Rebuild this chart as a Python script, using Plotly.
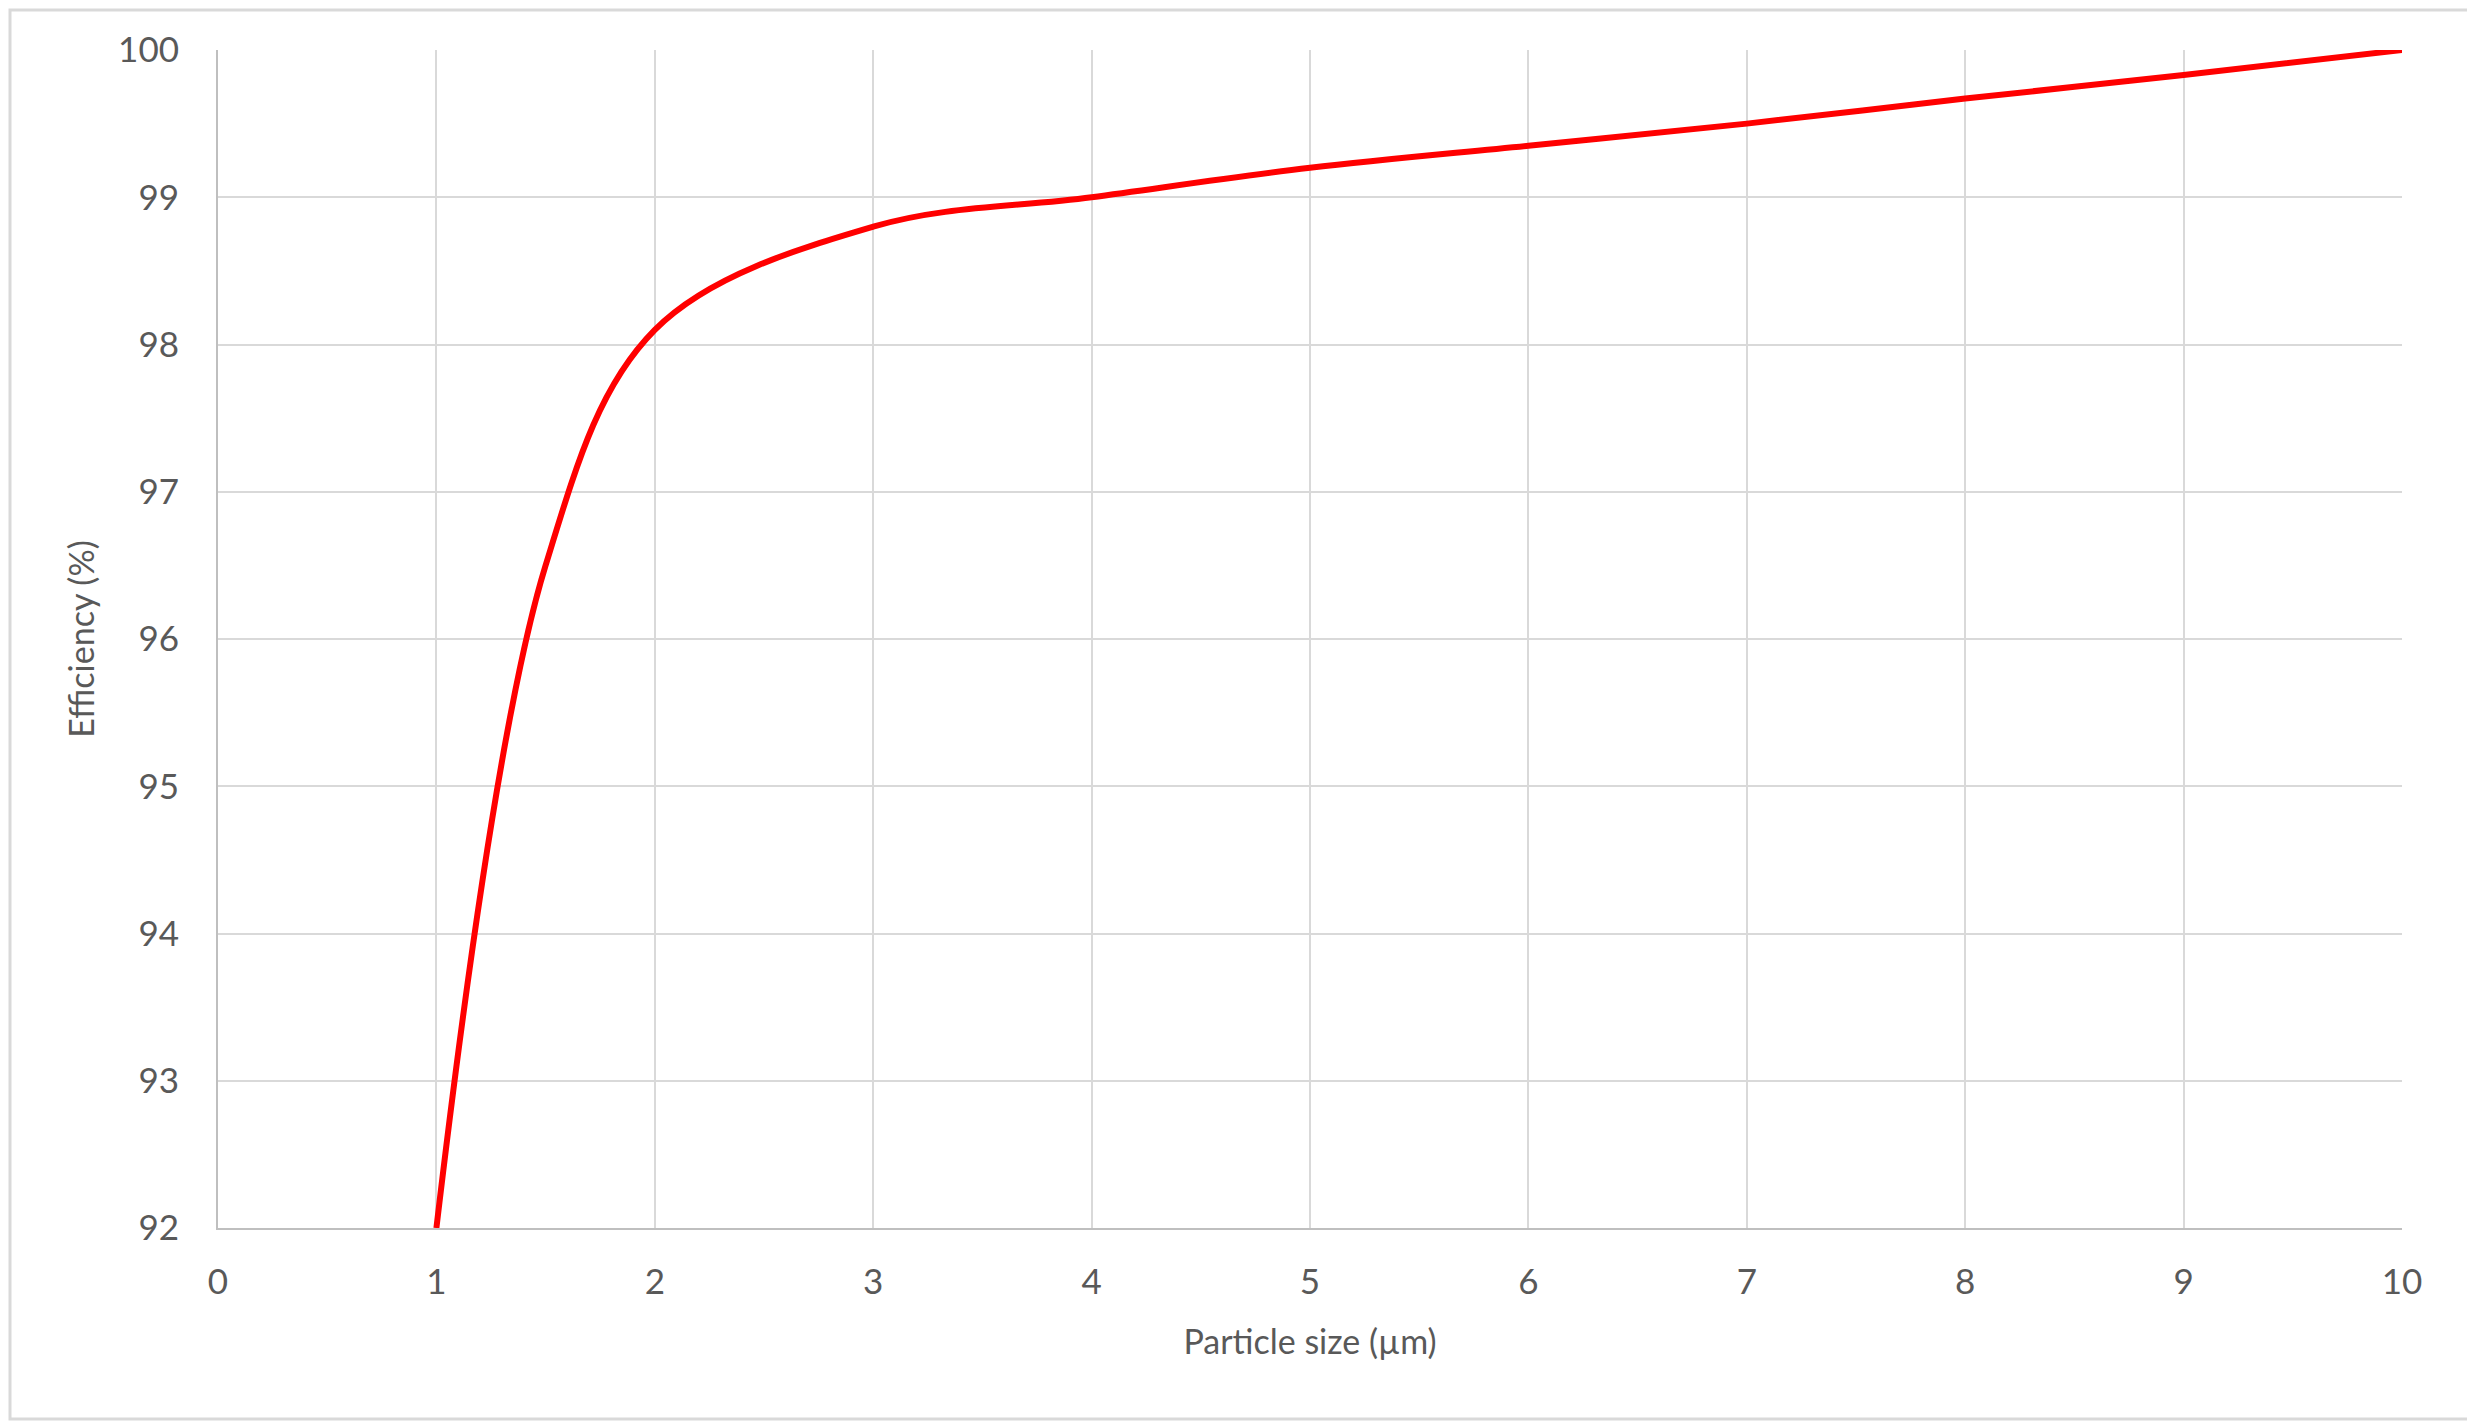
import plotly.graph_objects as go

particle_size = [1, 1.5, 2, 3, 4, 5, 6, 7, 8, 9, 10]
efficiency = [92, 96.5, 98.1, 98.8, 99.0, 99.2, 99.35, 99.5, 99.67, 99.83, 100]
x_ticks = list(range(0, 11))
y_ticks = list(range(92, 101))

W, H = 2467, 1414
ml, mr, mt, mb = 210, 73, 42, 194

fig = go.Figure()
fig.add_trace(go.Scatter(
    x=particle_size, y=efficiency, mode="lines",
    line=dict(color="#FF0000", width=6, shape="spline", smoothing=1.0),
    cliponaxis=False, showlegend=False,
))

font_family = "Lato, Open Sans, sans-serif"
fig.update_layout(
    width=W, height=H,
    margin=dict(l=ml, r=mr, t=mt, b=mb),
    paper_bgcolor="white", plot_bgcolor="white",
    font=dict(family=font_family, color="#595959"),
    xaxis=dict(
        range=[0, 10], tickvals=x_ticks, ticktext=[str(v) for v in x_ticks],
        showgrid=True, gridcolor="#D9D9D9", gridwidth=2,
        showline=True, linecolor="#BFBFBF", linewidth=2,
        zeroline=False, ticks="outside", ticklen=22, tickcolor="rgba(0,0,0,0)",
        tickfont=dict(size=35, color="#595959"),
        title=dict(text="Particle size (µm)", font=dict(size=34, color="#595959"), standoff=30),
    ),
    yaxis=dict(
        range=[92, 100], tickvals=y_ticks, ticktext=[str(v) for v in y_ticks],
        showgrid=True, gridcolor="#D9D9D9", gridwidth=2,
        showline=True, linecolor="#BFBFBF", linewidth=2,
        zeroline=False, ticks="outside", ticklen=30, tickcolor="rgba(0,0,0,0)",
        tickfont=dict(size=35, color="#595959"),
        title=dict(text="Efficiency (%)", font=dict(size=34, color="#595959"), standoff=13),
    ),
)

pw, ph = W - ml - mr, H - mt - mb
fig.add_shape(type="rect", xref="paper", yref="paper",
              x0=-(ml - 2) / pw, x1=1 + (mr - 3) / pw,
              y0=-(mb - 3) / ph, y1=1 + (mt - 2) / ph,
              line=dict(color="#D9D9D9", width=3), fillcolor="rgba(0,0,0,0)", layer="below")

fig.write_html("out.html")
